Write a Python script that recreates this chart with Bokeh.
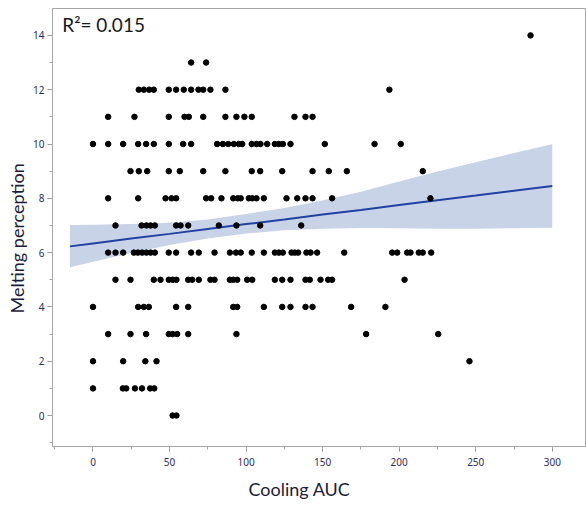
from bokeh.plotting import figure
from bokeh.models import ColumnDataSource, Range1d, SingleIntervalTicker, Label, Title
from bokeh.embed import file_html
from bokeh.resources import INLINE

# ---- data (Cooling AUC values for each Melting perception level)
auc_at_14 = [285.8]
auc_at_13 = [64.1, 73.9]
auc_at_12 = [29.9, 33.2, 36.7, 39.7, 49.5, 54.3, 59.3, 64.1, 68.9, 72.0, 76.7, 86.5, 193.6]
auc_at_11 = [9.9, 27.1, 49.5, 59.8, 62.6, 72.0, 86.5, 93.7, 98.9, 103.7, 131.6, 138.8, 143.4]
auc_at_10 = [0, 9.9, 19.7, 29.5, 34.7, 39.7, 49.5, 58.9, 64.1, 81.1, 84.8, 88.3, 92.0, 95.2,
             97.5, 103.7, 106.8, 109.4, 113.8, 118.8, 121.4, 124.0, 129.0, 151.4, 183.9, 201.0]
auc_at_9 = [24.5, 29.9, 35.4, 49.5, 56.7, 72.0, 86.5, 103.7, 109.2, 123.6, 143.4, 154.0, 165.8, 215.4]
auc_at_8 = [9.9, 29.5, 47.4, 51.3, 54.3, 73.9, 77.2, 83.9, 91.6, 94.5, 96.5, 101.8, 104.0, 106.8,
            111.6, 126.4, 133.4, 138.8, 143.4, 156.2, 220.4]
auc_at_7 = [14.7, 31.7, 34.9, 37.6, 40.4, 54.3, 57.2, 62.2, 82.2, 93.7, 109.2, 136.0]
auc_at_6 = [9.9, 14.7, 19.7, 26.7, 29.3, 32.1, 34.9, 37.6, 40.4, 49.5, 54.3, 64.1, 69.1, 79.4,
            89.4, 93.4, 96.5, 103.7, 111.6, 118.8, 121.4, 124.0, 129.7, 131.8, 134.0, 139.4,
            142.1, 146.4, 164.1, 195.4, 198.7, 205.2, 207.4, 212.8, 215.4, 220.9]
auc_at_5 = [14.7, 24.5, 39.7, 44.1, 49.5, 52.1, 54.5, 62.2, 64.8, 69.1, 76.7, 79.4, 89.4, 91.6,
            94.2, 100.7, 104.0, 118.8, 123.6, 129.0, 138.8, 141.6, 148.6, 153.6, 156.2, 203.5]
auc_at_4 = [0, 29.5, 33.2, 36.5, 54.3, 62.2, 91.6, 94.2, 111.6, 123.6, 129.0, 138.8, 143.4, 168.6, 191.0]
auc_at_3 = [9.9, 24.5, 34.7, 49.5, 52.1, 55.0, 62.2, 93.7, 178.4, 225.5]
auc_at_2 = [0, 19.7, 34.2, 41.5, 245.9]
auc_at_1 = [0, 19.5, 21.7, 27.4, 32.0, 37.3, 40.0]
auc_at_0 = [52.0, 54.5]

melting_levels = [14, 13, 12, 11, 10, 9, 8, 7, 6, 5, 4, 3, 2, 1, 0]
auc_rows = [auc_at_14, auc_at_13, auc_at_12, auc_at_11, auc_at_10, auc_at_9, auc_at_8,
            auc_at_7, auc_at_6, auc_at_5, auc_at_4, auc_at_3, auc_at_2, auc_at_1, auc_at_0]

# fitted line and its confidence band
fit_x = [-15, 0, 25, 50, 75, 100, 125, 150, 175, 200, 225, 250, 275, 300]
fit_y = [6.23, 6.34, 6.52, 6.69, 6.87, 7.05, 7.22, 7.40, 7.57, 7.75, 7.93, 8.10, 8.28, 8.45]
band_upper = [7.02, 7.03, 7.05, 7.10, 7.22, 7.42, 7.64, 7.92, 8.24, 8.62, 8.99, 9.33, 9.67, 9.99]
band_lower = [5.46, 5.66, 5.99, 6.28, 6.52, 6.70, 6.82, 6.88, 6.91, 6.90, 6.88, 6.88, 6.90, 6.92]

r2_text = "R\u00b2= 0.015"
x_title = "Cooling AUC"
y_title = "Melting perception"

xs, ys = [], []
for lvl, row in zip(melting_levels, auc_rows):
    xs.extend(row)
    ys.extend([lvl] * len(row))

pts = ColumnDataSource(dict(x=xs, y=ys))
fit = ColumnDataSource(dict(x=fit_x, y=fit_y, lo=band_lower, hi=band_upper))

p = figure(width=586, height=508, output_backend="svg", toolbar_location=None,
           x_range=Range1d(-26.45, 321.7), y_range=Range1d(-1.14, 14.99),
           min_border_left=52, min_border_right=1, min_border_top=8, min_border_bottom=62)

p.background_fill_color = "white"
p.border_fill_color = "white"
p.outline_line_color = "#a6a6a6"
p.outline_line_width = 1
p.xgrid.visible = False
p.ygrid.visible = False

p.varea(x="x", y1="lo", y2="hi", source=fit, fill_color="#c9d3e8", fill_alpha=1.0)
p.line(x="x", y="y", source=fit, line_color="#2142a0", line_width=2)
p.scatter(x="x", y="y", source=pts, size=5.5, fill_color="black", line_color="black")

p.xaxis.ticker = SingleIntervalTicker(interval=50, num_minor_ticks=2)
p.yaxis.ticker = SingleIntervalTicker(interval=2, num_minor_ticks=2)

for ax in (p.xaxis[0], p.yaxis[0]):
    ax.axis_line_color = "#a6a6a6"
    ax.major_tick_line_color = "#8c8c8c"
    ax.minor_tick_line_color = "#a6a6a6"
    ax.major_tick_in = 0
    ax.major_tick_out = 5
    ax.minor_tick_in = 0
    ax.minor_tick_out = 3
    ax.major_label_text_font = "Noto Sans"
    ax.major_label_text_font_size = "10px"
    ax.major_label_text_color = "#2e2e5c"

p.xaxis.major_label_standoff = 6
p.yaxis.major_label_standoff = 3

title_style = dict(text_font="Lato", text_font_size="18px", text_color="#1c1c3a",
                   text_font_style="normal", align="left", vertical_align="middle")
p.add_layout(Title(text=x_title, offset=196, standoff=16, **title_style), "below")
p.add_layout(Title(text=y_title, offset=133, standoff=4, **title_style), "left")

p.add_layout(Label(x=-20.1, y=14.82, text=r2_text, text_font="Lato", text_font_size="19px",
                   text_color="#1a1a1a", text_align="left", text_baseline="top"))

open("out.html", "w").write(file_html(p, INLINE))
